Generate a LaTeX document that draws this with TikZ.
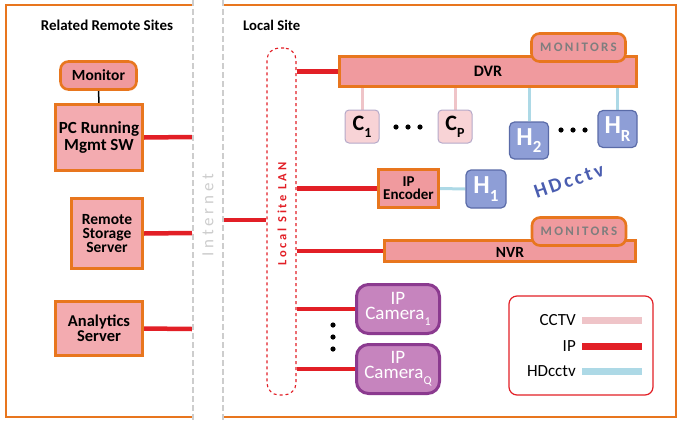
\documentclass[tikz,border=0pt]{standalone}
\usepackage{fontspec}
\setmainfont{Carlito}
\usetikzlibrary{backgrounds}
\definecolor{orng}{HTML}{E8761E}
\definecolor{redip}{HTML}{E21F26}
\definecolor{salm}{HTML}{F09A9E}
\definecolor{pcfill}{HTML}{F3ABB0}
\definecolor{cpink}{HTML}{F8D3D6}
\definecolor{cbord}{HTML}{B5A9C9}
\definecolor{hfill}{HTML}{8E9ED6}
\definecolor{hbord}{HTML}{5A6BA8}
\definecolor{camfill}{HTML}{C684BE}
\definecolor{cambord}{HTML}{8B3A8F}
\definecolor{cctvc}{HTML}{EFC4C8}
\definecolor{hdc}{HTML}{ADD9E6}
\definecolor{inetgray}{HTML}{CDCDCD}
\definecolor{hdtext}{HTML}{4A5DB0}
\definecolor{montext}{HTML}{7E7E7E}
\newcommand\mysub[2]{\raisebox{-0.3em}{\fontsize{#1}{#1}\selectfont #2}}
\begin{document}
\begin{tikzpicture}[x=1pt,y=-1pt,
  frame/.style={draw=orng, line width=2.6pt},
  inet/.style={draw=inetgray, line width=1.5pt, dash pattern=on 6pt off 3pt},
  ob/.style={draw=orng, line width=2.6pt, fill=salm, inner sep=0pt, align=center,
     font=\bfseries\fontsize{15.5}{14}\selectfont},
  monbox/.style={ob, rounded corners=8pt, minimum width=94, minimum height=28,
     font=\bfseries\fontsize{13}{13}\selectfont\addfontfeatures{LetterSpace=18}, text=montext},
  cbox/.style={draw=cbord, line width=1pt, fill=cpink, rounded corners=4pt, inner sep=0pt,
     minimum width=34, minimum height=33, font=\bfseries\fontsize{22}{22}\selectfont},
  hbox/.style={draw=hbord, line width=1.2pt, fill=hfill, rounded corners=5pt, inner sep=0pt,
     minimum width=39, minimum height=37, text=white, font=\bfseries\fontsize{26}{26}\selectfont},
  cam/.style={draw=cambord, line width=3pt, fill=camfill, rounded corners=12pt, inner sep=0pt,
     minimum width=83, minimum height=49, text=white, align=center, font=\fontsize{19}{15}\selectfont},
  ipl/.style={draw=redip, line width=4.5pt},
  cctvl/.style={draw=cctvc, line width=3pt},
  hdl/.style={draw=hdc, line width=3pt},
  lgtext/.style={anchor=east, inner sep=0pt, font=\fontsize{17}{17}\selectfont},
  dotc/.style={fill=black}
]
\useasboundingbox (0,0) rectangle (680,421);

% frames
\draw[frame] (192,5) -- (6,5) -- (6,417) -- (192,417);
\draw[frame] (224,5) -- (676,5) -- (676,417) -- (224,417);
\draw[inet] (193,0) -- (193,421);
\draw[inet] (223,0) -- (223,421);
\node[rotate=90, text=inetgray, font=\fontsize{17}{17}\selectfont\addfontfeatures{LetterSpace=22}] (inettxt) at (208,215) {Internet};

\node[font=\bfseries\fontsize{15}{15}\selectfont] (rrs) at (107,25) {Related Remote Sites};
\node[anchor=west, inner sep=0pt, font=\bfseries\fontsize{14.7}{14.7}\selectfont] (ls) at (243,25) {Local Site};

% remote side
\node[ob, rounded corners=8pt, minimum width=76, minimum height=28, font=\bfseries\fontsize{15.5}{15}\selectfont] (mon) at (98.5,75.5) {Monitor};
\node[ob, fill=pcfill, minimum width=87, minimum height=66, font=\bfseries\fontsize{17}{17.5}\selectfont] (pc) at (99,137.5) {PC Running\\Mgmt SW};
\node[ob, fill=pcfill, minimum width=71, minimum height=70] (rss) at (107,233.5) {Remote\\Storage\\Server};
\node[ob, fill=pcfill, minimum width=87, minimum height=54, font=\bfseries\fontsize{16.5}{14.5}\selectfont] (ana) at (99,328.5) {Analytics\\Server};

\coordinate (i1) at (192,137);
\coordinate (i2) at (192,233);
\coordinate (i3) at (192,329);
\coordinate (i4) at (224,220);

% LAN
\node[draw=redip, line width=1.1pt, dashed, rounded corners=12pt, minimum width=29, minimum height=347, inner sep=0pt] (lan) at (281.5,221.5) {};
\node[rotate=90, text=redip, font=\bfseries\fontsize{12.5}{12.5}\selectfont\addfontfeatures{LetterSpace=22}] (lantxt) at (282,214) {Local Site LAN};

% DVR
\node[ob, minimum width=297, minimum height=30, font=\bfseries\fontsize{16}{16}\selectfont] (dvr) at (488,71.5) {DVR};
\node[monbox] (mon1) at (578.5,47.5) {MONITORS};

\node[cbox] (c1) at (362,126.5) {C\mysub{14}{1}};
\node[cbox] (cp) at (455,126.5) {C\mysub{14}{P}};
\node[hbox] (h2) at (529,140.5) {H\mysub{17}{2}};
\node[hbox] (hr) at (617.5,129) {H\mysub{17}{R}};

% encoder
\node[ob, minimum width=60, minimum height=38, font=\bfseries\fontsize{15}{13}\selectfont] (enc) at (408.5,188.5) {IP\\Encoder};
\node[hbox, minimum width=40, minimum height=38] (h1) at (486,189) {H\mysub{17}{1}};
\node[rotate=19, text=hdtext, font=\bfseries\fontsize{20}{20}\selectfont\addfontfeatures{LetterSpace=14}] (hdt) at (569,181) {HDcctv};

% NVR
\node[ob, minimum width=251, minimum height=21, font=\bfseries\fontsize{15.5}{15.5}\selectfont, text depth=0pt] (nvr) at (510,251) {\raisebox{-2pt}{NVR}};
\node[monbox] (mon2) at (579,231.5) {MONITORS};

% cameras
\node[cam] (cam1) at (398,309) {IP\\Camera\mysub{12}{1}};
\node[cam] (camq) at (398,369) {IP\\Camera\mysub{12}{Q}};

% dots
\foreach \x in {396,408,420} \fill[dotc] (\x,127) circle (2.6pt);
\foreach \x in {561,573,585} \fill[dotc] (\x,130) circle (2.6pt);
\foreach \y in {325,337,349} \fill[dotc] (333,\y) circle (2.6pt);

% legend
\node[draw=redip, line width=1.2pt, rounded corners=8pt, fill=white, minimum width=144, minimum height=99, inner sep=0pt] (leg) at (581,345.5) {};
\node[lgtext] (lgc) at (576,320) {CCTV};
\node[lgtext] (lgi) at (576,346) {IP};
\node[lgtext] (lgh) at (576,371) {HDcctv};
\coordinate (lc0) at (582,320); \coordinate (lc1) at (642,320);
\coordinate (li0) at (582,346); \coordinate (li1) at (642,346);
\coordinate (lh0) at (582,371); \coordinate (lh1) at (642,371);
\draw[cctvc, line width=7pt] (lc0) -- (lc1);
\draw[redip, line width=7pt] (li0) -- (li1);
\draw[hdc, line width=7pt] (lh0) -- (lh1);

% connectors behind
\begin{pgfonlayer}{background}
\draw[black, line width=1.5pt] (mon.south) -- (pc.north);
\draw[ipl] (pc.east) -- (i1);
\draw[ipl] (rss.east) -- (i2);
\draw[ipl] (ana.east) -- (i3);
\draw[ipl] (i4) -- (i4 -| lan.west);
\draw[ipl] (lan.east |- dvr.west) -- (dvr.west);
\draw[ipl] (lan.east |- enc.west) -- (enc.west);
\draw[ipl] (lan.east |- nvr.west) -- (nvr.west);
\draw[ipl] (lan.east |- cam1.west) -- (cam1.west);
\draw[ipl] (lan.east |- camq.west) -- (camq.west);
\draw[cctvl] (c1.north) -- (c1.north |- dvr.south);
\draw[cctvl] (cp.north) -- (cp.north |- dvr.south);
\draw[hdl] (h2.north) -- (h2.north |- dvr.south);
\draw[hdl] (hr.north) -- (hr.north |- dvr.south);
\draw[hdl] (enc.east) -- (h1.west);
\end{pgfonlayer}
\end{tikzpicture}
\end{document}
